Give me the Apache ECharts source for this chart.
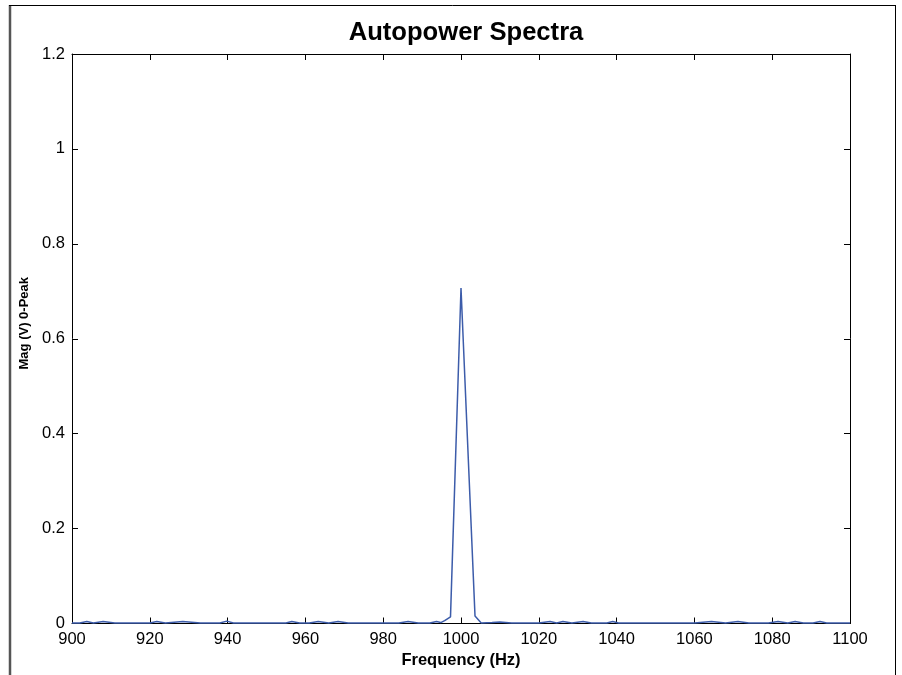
<!DOCTYPE html>
<html>
<head>
<meta charset="utf-8">
<style>
html,body{margin:0;padding:0;background:#fff;}
#chart{width:902px;height:675px;}
</style>
<script src="https://cdn.jsdelivr.net/npm/echarts@6/dist/echarts.min.js"></script>
</head>
<body>
<div id="chart"></div>
<script>
// Frequency (Hz) and magnitude (V, 0-peak)
var freq = [900, 902, 903.8, 905.5, 908, 911, 914, 918, 920, 921.8, 924, 928.5, 933, 938, 939.8, 941.5,
  955, 956.5, 958.5, 961, 963.3, 966, 968.4, 971, 984, 986.4, 989, 992, 993.7, 994.8, 995.8, 997.3,
  1000, 1003.6, 1005.2, 1008, 1010, 1013, 1020, 1022.9, 1024.6, 1026.2, 1028.5, 1031.4, 1033.5,
  1037.5, 1039, 1040.5, 1060, 1064.4, 1068, 1071.2, 1074, 1079, 1081.5, 1084, 1085.9, 1088, 1090.5,
  1092.3, 1094, 1100];
var mag = [0.001, 0.001, 0.004, 0.001, 0.004, 0.001, 0.001, 0.001, 0.001, 0.004, 0.001, 0.004, 0.001, 0.001, 0.005, 0.001,
  0.001, 0.004, 0.001, 0.001, 0.004, 0.001, 0.004, 0.001, 0.001, 0.004, 0.001, 0.001, 0.004, 0.002, 0.006, 0.014,
  0.707, 0.016, 0.001, 0.002, 0.003, 0.001, 0.001, 0.004, 0.001, 0.004, 0.001, 0.004, 0.001,
  0.001, 0.004, 0.001, 0.001, 0.004, 0.001, 0.004, 0.001, 0.001, 0.004, 0.001, 0.004, 0.001, 0.001,
  0.004, 0.001, 0.001];
var xTicks = {min: 900, max: 1100, interval: 20};
var yTicks = {min: 0, max: 1.2, interval: 0.2};

var data = freq.map(function (f, i) { return [f, mag[i]]; });
var font = 'Liberation Sans, Arial, Helvetica, sans-serif';

var chart = echarts.init(document.getElementById('chart'), null, {renderer: 'canvas'});
var axisBase = {
  axisLine: {show: true, onZero: false, lineStyle: {color: '#000', width: 1}},
  axisTick: {show: true, inside: true, length: 6, lineStyle: {color: '#000', width: 1}},
  splitLine: {show: false}
};
chart.setOption({
  animation: false,
  backgroundColor: '#fff',
  title: {
    text: 'Autopower Spectra',
    left: 461, textAlign: 'center', top: 15,
    textStyle: {fontFamily: font, fontSize: 25.6, fontWeight: 'bold', color: '#000'}
  },
  grid: {left: 72, right: 52, top: 54, bottom: 51.5, containLabel: false},
  xAxis: [
    Object.assign({}, axisBase, {
      type: 'value', position: 'bottom', min: xTicks.min, max: xTicks.max, interval: xTicks.interval,
      name: 'Frequency (Hz)', nameLocation: 'middle', nameGap: 28,
      nameTextStyle: {fontFamily: font, fontSize: 16.5, fontWeight: 'bold', color: '#000'},
      axisLabel: {fontFamily: font, fontSize: 16.5, color: '#000', margin: 7,
        formatter: function (v) { return String(Math.round(v)); }}
    }),
    Object.assign({}, axisBase, {
      type: 'value', position: 'top', min: xTicks.min, max: xTicks.max, interval: xTicks.interval,
      axisLabel: {show: false}
    })
  ],
  yAxis: [
    Object.assign({}, axisBase, {
      type: 'value', position: 'left', min: yTicks.min, max: yTicks.max, interval: yTicks.interval,
      name: 'Mag (V) 0-Peak', nameLocation: 'middle', nameGap: 38,
      nameTextStyle: {fontFamily: font, fontSize: 13, fontWeight: 'bold', color: '#000', padding: [0, 0, 0, 31]},
      axisLabel: {fontFamily: font, fontSize: 16.5, color: '#000', margin: 7,
        formatter: function (v) { return String(Math.round(v * 10) / 10); }}
    }),
    Object.assign({}, axisBase, {
      type: 'value', position: 'right', min: yTicks.min, max: yTicks.max, interval: yTicks.interval,
      axisLabel: {show: false}
    })
  ],
  series: [{
    type: 'line', xAxisIndex: 0, yAxisIndex: 0,
    data: data, showSymbol: false, smooth: false,
    lineStyle: {color: '#3c5caa', width: 1.5},
    z: 10
  }],
  graphic: [
    {type: 'line', shape: {x1: 10, y1: 5, x2: 10, y2: 675}, style: {stroke: '#555', lineWidth: 2.5}, silent: true},
    {type: 'line', shape: {x1: 9, y1: 5.5, x2: 895.5, y2: 5.5}, style: {stroke: '#000', lineWidth: 1}, silent: true},
    {type: 'line', shape: {x1: 895.5, y1: 5, x2: 895.5, y2: 675}, style: {stroke: '#000', lineWidth: 1}, silent: true}
  ]
});
</script>
</body>
</html>
